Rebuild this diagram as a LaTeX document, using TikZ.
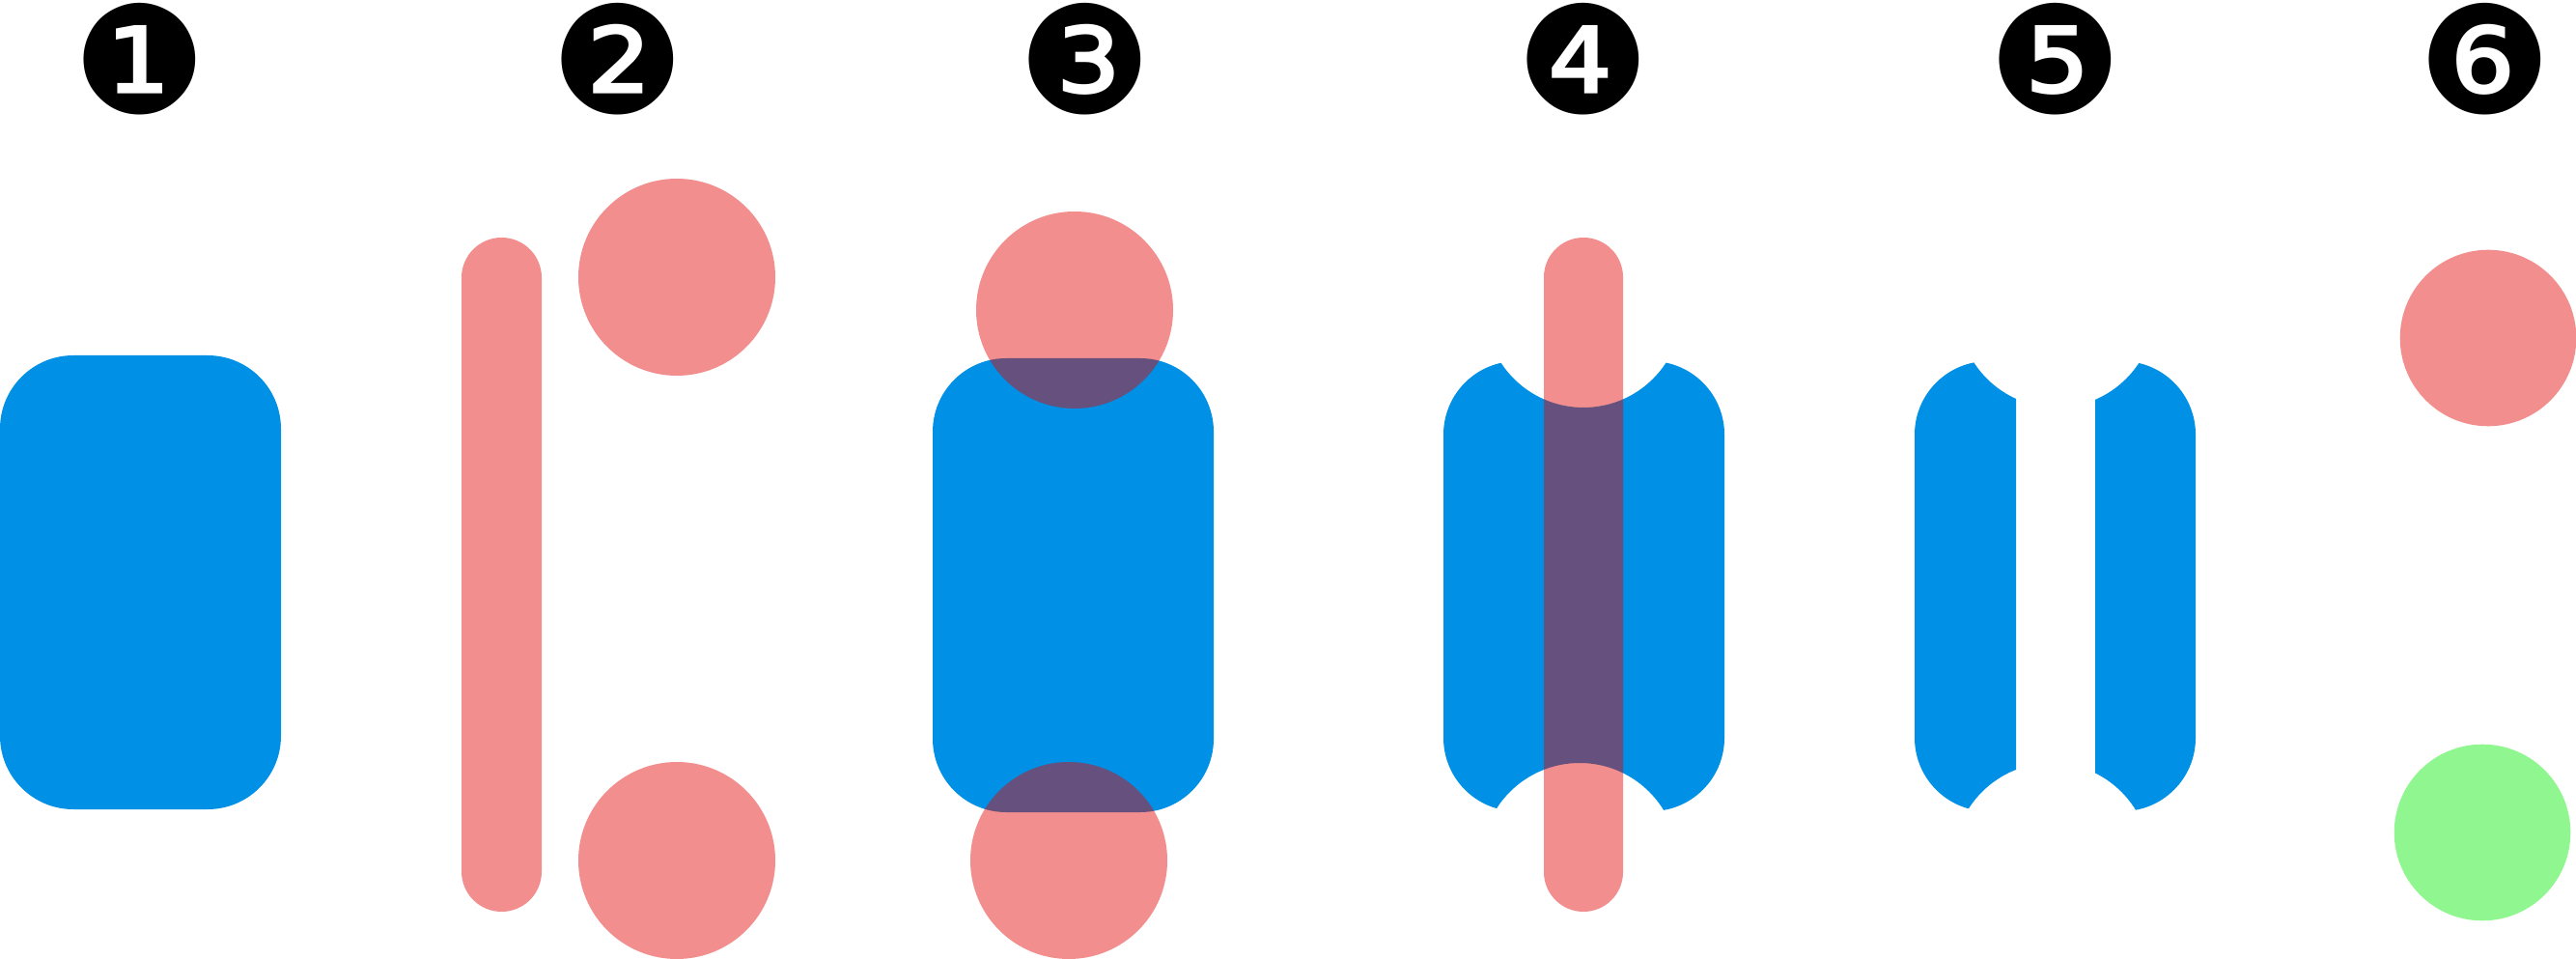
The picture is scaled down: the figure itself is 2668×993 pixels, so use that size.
\documentclass[tikz,border=0pt]{standalone}
\usepackage{fontspec}
\newfontfamily\dejavu{DejaVu Sans}
\definecolor{blueC}{RGB}{0,144,229}
\definecolor{redC}{RGB}{226,4,2}
\definecolor{greenC}{RGB}{144,247,144}
\tikzset{
  badge/.style={inner sep=0pt, font=\dejavu\fontsize{44}{44}\selectfont},
  pinkfill/.style={fill=redC, fill opacity=0.45},
  bluefill/.style={fill=blueC},
}
\begin{document}
\begin{tikzpicture}[x=0.1mm,y=-0.1mm]
\useasboundingbox (0,0) rectangle (2668,993);
% badges
\node[badge] (b1) at (145,61) {❶};
\node[badge] (b2) at (640,61) {❷};
\node[badge] (b3) at (1124,61) {❸};
\node[badge] (b4) at (1640,61) {❹};
\node[badge] (b5) at (2129,61) {❺};
\node[badge] (b6) at (2574,61) {❻};
% column 1
\fill[bluefill, rounded corners=7.6mm] (0,368) rectangle (291,838);
% column 2
\fill[pinkfill, rounded corners=4.15mm] (478,246) rectangle (561,944);
\fill[pinkfill] (701,287) circle[radius=10.2mm];
\fill[pinkfill] (701,891) circle[radius=10.2mm];
% column 3
\fill[bluefill, rounded corners=7.6mm] (966,371) rectangle (1257,841);
\fill[pinkfill] (1113,321) circle[radius=10.2mm];
\fill[pinkfill] (1107,891) circle[radius=10.2mm];
% column 4
\begin{scope}
  \clip[rounded corners=7.6mm] (1495,374) rectangle (1786,840);
  \fill[bluefill, even odd rule] (1450,300) rectangle (1850,900)
     (1640,320) circle[radius=10.2mm] (1636,892) circle[radius=10.2mm];
\end{scope}
\fill[pinkfill, rounded corners=4.1mm] (1599,246) rectangle (1681,944);
% column 5
\begin{scope}
  \clip[rounded corners=7.6mm] (1983,374) rectangle (2274,840);
  \clip (1950,300) rectangle (2088,900);
  \fill[bluefill, even odd rule] (1950,300) rectangle (2300,900)
     (2130,320) circle[radius=10.2mm] (2125,892) circle[radius=10.2mm];
\end{scope}
\begin{scope}
  \clip[rounded corners=7.6mm] (1983,374) rectangle (2274,840);
  \clip (2170,300) rectangle (2300,900);
  \fill[bluefill, even odd rule] (1950,300) rectangle (2300,900)
     (2130,320) circle[radius=10.2mm] (2125,892) circle[radius=10.2mm];
\end{scope}
% column 6
\fill[pinkfill] (2577,350) circle[radius=9.13mm];
\fill[greenC] (2571,862) circle[radius=9.13mm];
\end{tikzpicture}
\end{document}
